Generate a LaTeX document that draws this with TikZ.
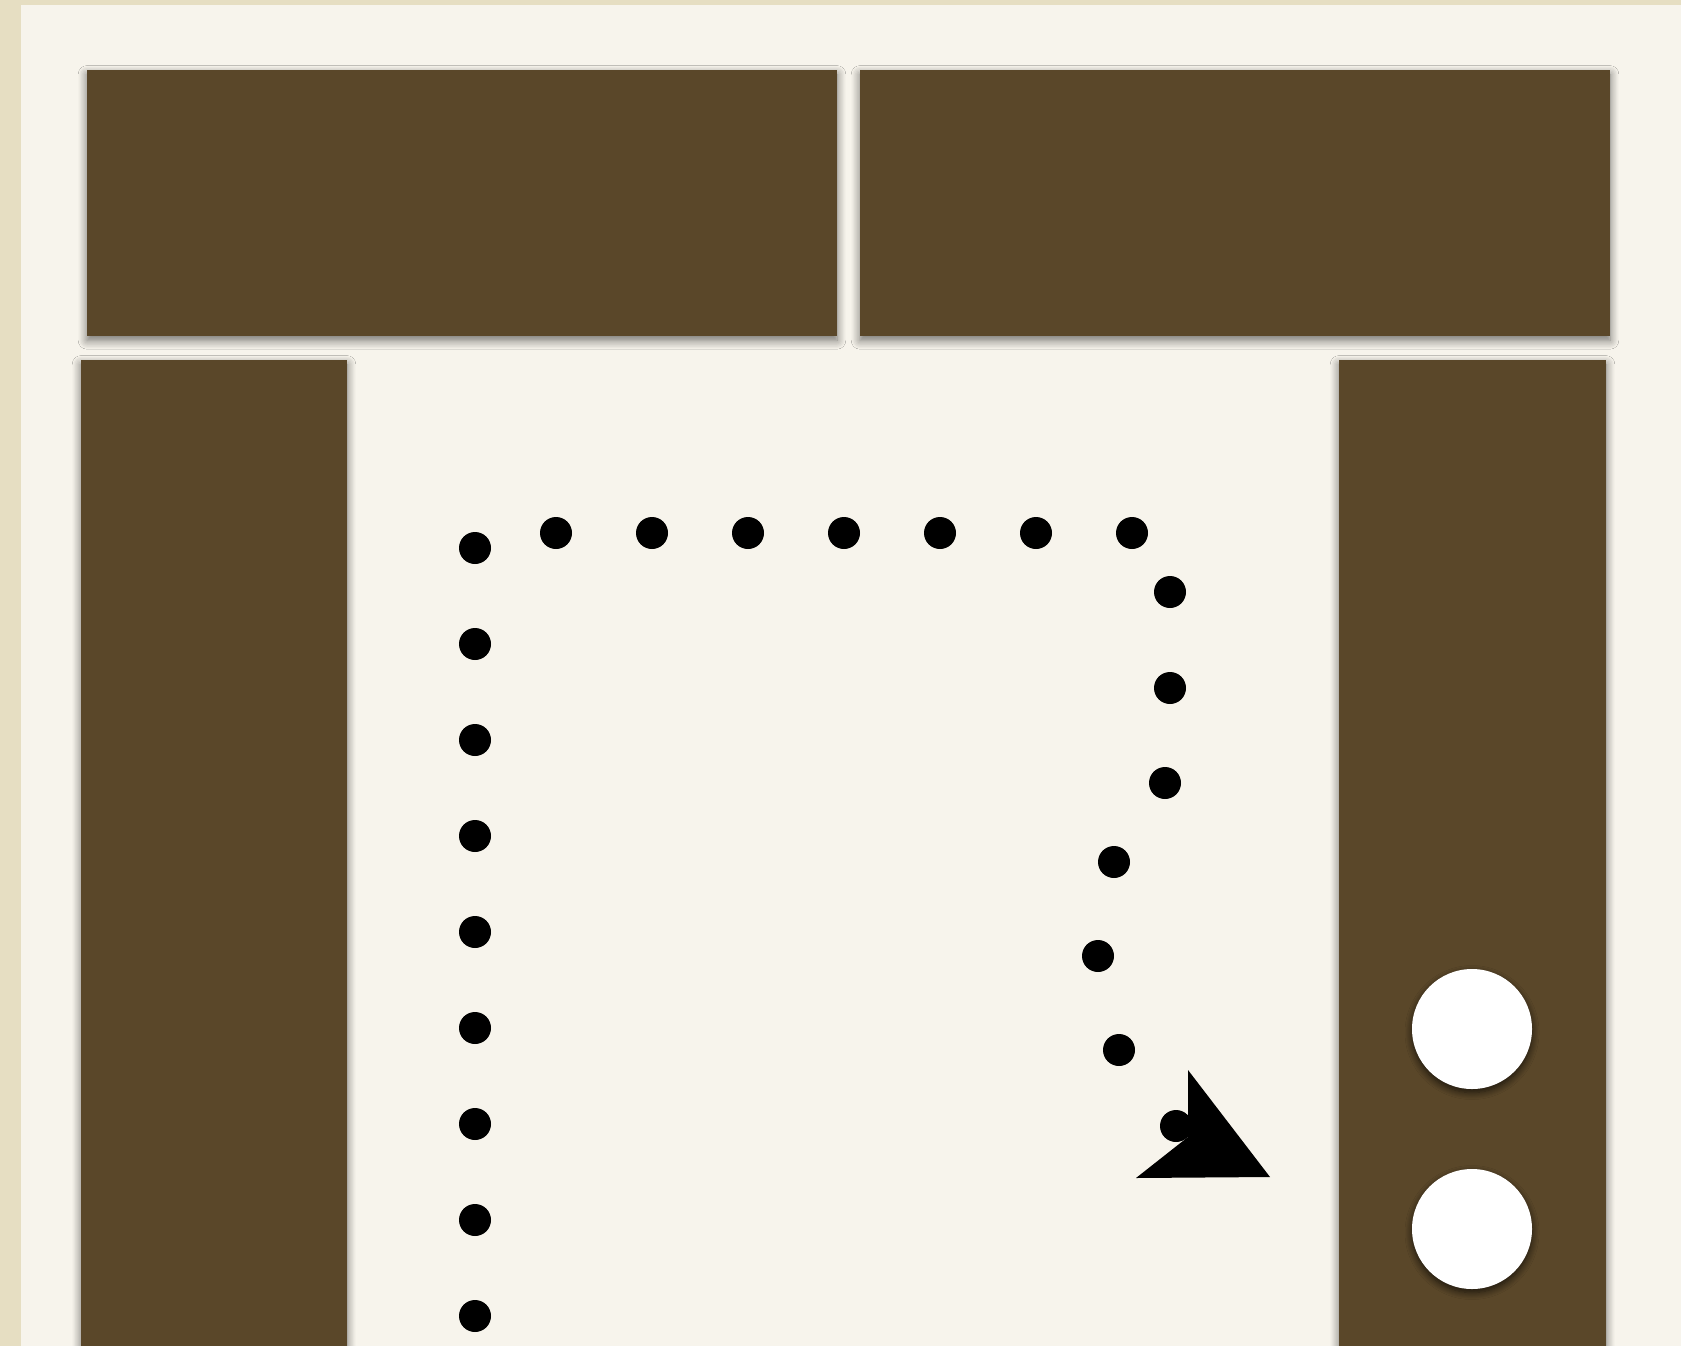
\documentclass[tikz,border=0pt]{standalone}
\usepackage{tikz}
\usepackage{xcolor}
\usetikzlibrary{shadows.blur}
\definecolor{Parchment}{RGB}{230,222,194}
\definecolor{PanelColor}{RGB}{247,244,236}
\definecolor{WoodBrown}{RGB}{90,71,41}

\tikzset{
  wall/.style={fill=WoodBrown, blur shadow={shadow xshift=0pt, shadow yshift=-2.5pt, shadow blur radius=5pt, shadow blur extra rounding=0pt, shadow blur steps=8, shadow opacity=55}},
  stone/.style={fill=white, blur shadow={shadow xshift=0pt, shadow yshift=-2pt, shadow blur radius=4pt, shadow blur steps=8, shadow opacity=70}},
  dot/.style={fill=black}
}

\begin{document}
\begin{tikzpicture}[x=0.02cm, y=-0.02cm]
      \useasboundingbox (0,0) rectangle (1681,1346);
      \fill[Parchment] (0,0) rectangle (1681,1346);
      \fill[PanelColor] (21,5) rectangle (1681,1346);
      % walls
      \fill[wall] (87,70) rectangle (837,336);
      \fill[wall] (860,70) rectangle (1610,336);
      \fill[wall] (81,360) rectangle (347,1360);
      \fill[wall] (1339,360) rectangle (1606,1360);
      % stones
      \fill[stone] (1472,1029) circle (60);
      \fill[stone] (1472,1229) circle (60);
      % dotted route
      \foreach \y in {548,644,...,1316}
        \fill[dot] (475,\y) circle (16);
      \foreach \x in {556,652,...,1132}
        \fill[dot] (\x,533) circle (16);
      \foreach \x/\y in {1170/592, 1170/688, 1165/783, 1114/862, 1098/956, 1119/1050, 1176/1126}
        \fill[dot] (\x,\y) circle (16);
      \fill[black] (1188,1070) -- (1270,1177) -- (1136,1178) -- (1188,1137) -- cycle;
    \end{tikzpicture}
\end{document}
